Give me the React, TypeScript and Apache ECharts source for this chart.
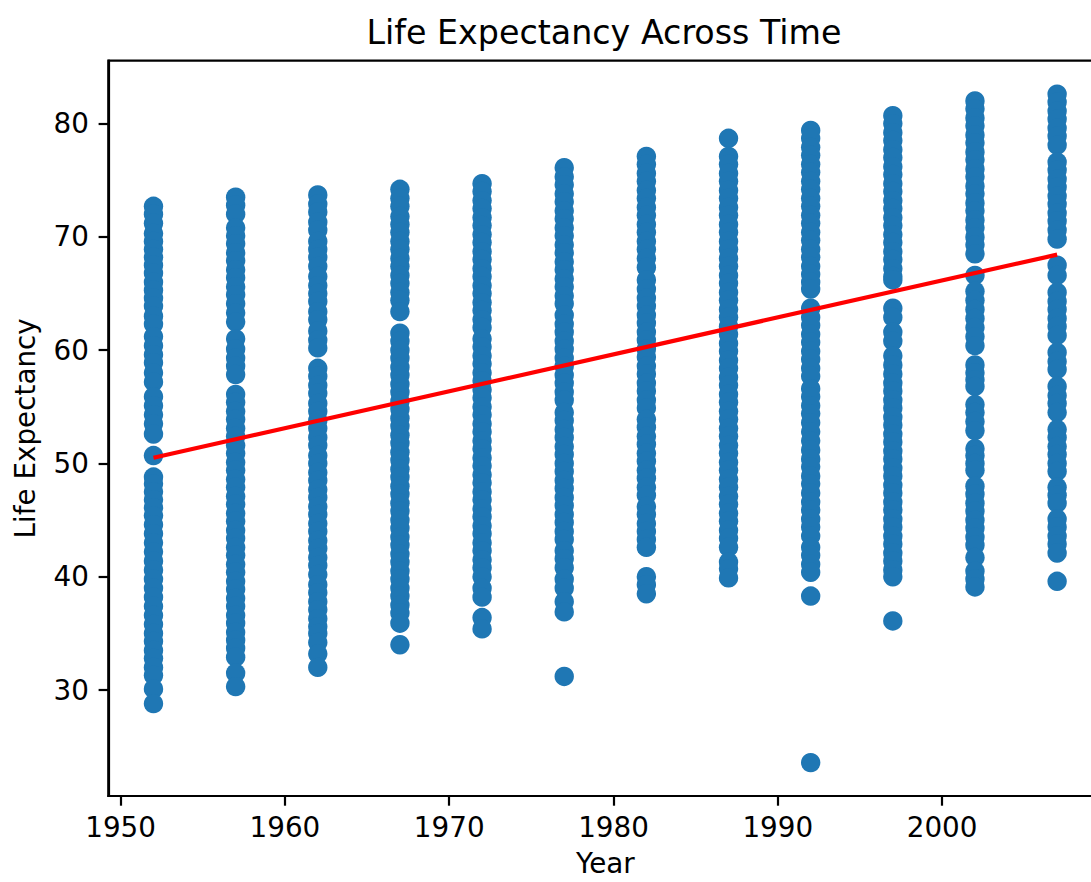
import React, { useEffect, useRef } from "react";
import * as echarts from "echarts";

const years = [1952, 1957, 1962, 1967, 1972, 1977, 1982, 1987, 1992, 1997, 2002, 2007];

const life1952 = [72.7, 72.0, 71.2, 70.3, 69.6, 68.9, 68.2, 67.5, 66.8, 66.0, 65.3, 64.6, 63.9, 63.0, 62.3, 61.2, 60.4, 59.6, 58.9, 58.0, 57.2, 55.9, 55.1, 54.3, 53.5, 52.6, 50.7, 48.8, 48.2, 47.5, 46.8, 46.1, 45.4, 44.6, 43.8, 43.0, 42.2, 41.4, 40.6, 39.8, 39.0, 38.2, 37.4, 36.6, 35.8, 35.0, 34.3, 33.5, 32.8, 32.0, 31.3, 30.1, 28.8];
const life1957 = [73.5, 72.8, 72.0, 70.8, 70.1, 69.4, 68.6, 67.9, 67.1, 66.4, 65.6, 64.9, 64.1, 63.3, 62.5, 61.0, 60.1, 59.3, 58.6, 57.85, 56.1, 55.4, 54.6, 53.9, 53.1, 52.4, 51.6, 50.9, 50.1, 49.4, 48.6, 47.9, 47.1, 46.4, 45.6, 44.9, 44.1, 43.4, 42.6, 41.9, 41.1, 40.4, 39.6, 38.9, 38.1, 37.4, 36.6, 35.9, 35.1, 34.4, 33.7, 32.9, 31.5, 30.3];
const life1962 = [73.7, 72.9, 72.2, 71.3, 70.6, 69.6, 68.9, 68.2, 67.4, 66.5, 65.7, 65.0, 64.3, 63.4, 62.7, 61.7, 60.9, 60.2, 58.4, 57.7, 56.9, 56.2, 55.3, 54.6, 53.8, 53.1, 52.3, 51.6, 50.7, 50.0, 49.2, 48.5, 47.7, 47.0, 46.2, 45.5, 44.7, 44.0, 43.2, 42.5, 41.7, 41.0, 40.2, 39.3, 38.6, 37.8, 37.1, 36.3, 35.6, 35.0, 34.2, 33.2, 32.0];
const life1967 = [74.2, 73.4, 72.7, 71.8, 71.1, 70.4, 69.6, 68.9, 68.1, 67.4, 66.6, 65.9, 65.1, 64.4, 63.4, 61.5, 60.8, 60.0, 59.3, 58.5, 57.8, 57.0, 56.3, 55.5, 54.8, 54.0, 53.3, 52.5, 51.8, 51.0, 50.3, 49.5, 48.8, 48.0, 47.3, 46.5, 45.8, 45.0, 44.3, 43.5, 42.8, 42.0, 41.3, 40.5, 39.8, 39.0, 38.3, 37.5, 36.8, 35.9, 34.0];
const life1972 = [74.7, 74.0, 73.2, 72.5, 71.7, 71.0, 70.2, 69.5, 68.7, 68.0, 67.2, 66.5, 65.7, 65.0, 64.2, 63.5, 62.7, 62.0, 61.0, 60.3, 59.5, 58.8, 58.0, 57.3, 56.5, 55.8, 55.0, 54.3, 53.5, 52.8, 52.0, 51.3, 50.5, 49.8, 49.0, 48.3, 47.5, 46.8, 46.0, 45.3, 44.5, 43.8, 43.0, 42.3, 41.5, 40.8, 40.0, 39.0, 38.2, 36.4, 35.4];
const life1977 = [76.1, 75.3, 74.6, 73.8, 73.1, 72.3, 71.6, 70.8, 70.1, 69.3, 68.6, 67.8, 67.1, 66.3, 65.6, 64.8, 64.1, 63.1, 62.3, 61.6, 60.8, 60.1, 59.3, 58.6, 57.8, 57.1, 56.3, 55.6, 54.5, 53.8, 53.0, 52.3, 51.5, 50.8, 50.0, 49.3, 48.5, 47.8, 47.0, 46.3, 45.5, 44.8, 44.0, 43.3, 42.3, 41.6, 40.8, 39.8, 39.0, 37.8, 36.9, 31.2];
const life1982 = [77.1, 76.4, 75.6, 74.9, 74.1, 73.4, 72.6, 71.9, 71.1, 70.4, 69.6, 68.9, 68.1, 67.3, 66.2, 65.4, 64.6, 63.9, 63.1, 62.4, 61.6, 60.9, 60.1, 59.4, 58.6, 57.9, 57.1, 56.4, 55.6, 54.9, 53.9, 53.2, 52.4, 51.7, 50.9, 50.2, 49.4, 48.7, 47.9, 47.2, 46.2, 45.5, 44.7, 44.0, 43.3, 42.6, 40.0, 39.3, 38.5];
const life1987 = [78.7, 77.1, 76.4, 75.6, 74.9, 74.1, 73.4, 72.6, 71.9, 71.1, 70.4, 69.6, 68.9, 68.1, 67.4, 66.6, 65.9, 65.1, 64.4, 63.6, 62.9, 62.1, 61.4, 60.6, 59.9, 59.1, 58.4, 57.6, 56.9, 56.1, 55.4, 54.6, 53.9, 53.1, 52.4, 51.6, 50.9, 50.1, 49.4, 48.6, 47.9, 47.1, 46.4, 45.6, 44.9, 44.1, 43.4, 42.6, 41.3, 40.7, 39.9];
const life1992 = [79.4, 78.7, 77.9, 77.2, 76.4, 75.7, 74.9, 74.2, 73.4, 72.7, 71.9, 71.2, 70.4, 69.7, 68.9, 68.2, 67.4, 66.7, 66.0, 65.4, 63.7, 62.9, 62.2, 61.4, 60.7, 59.9, 59.2, 58.4, 57.7, 56.6, 55.9, 55.1, 54.4, 53.6, 52.8, 52.0, 51.2, 50.4, 49.7, 48.9, 48.2, 47.4, 46.6, 45.9, 45.1, 44.4, 43.6, 42.6, 41.9, 41.1, 40.4, 38.3, 23.6];
const life1997 = [80.7, 80.0, 79.2, 78.5, 77.7, 77.0, 76.2, 75.5, 74.7, 74.0, 73.2, 72.5, 71.7, 71.0, 70.2, 69.5, 68.7, 68.0, 67.2, 66.5, 66.2, 63.7, 62.9, 61.6, 60.8, 59.5, 58.7, 57.9, 57.1, 56.4, 55.6, 54.9, 54.1, 53.4, 52.6, 51.9, 51.1, 50.4, 49.6, 48.9, 48.1, 47.4, 46.6, 45.9, 45.1, 44.4, 43.6, 42.9, 42.1, 41.4, 40.6, 40.0, 36.1];
const life2002 = [82.0, 81.3, 80.5, 79.8, 79.0, 78.3, 77.5, 76.8, 76.0, 75.3, 74.5, 73.8, 73.0, 72.3, 71.5, 70.8, 70.0, 69.3, 68.5, 66.6, 65.2, 64.4, 63.6, 62.8, 62.0, 61.2, 60.4, 58.7, 58.0, 57.4, 56.8, 55.2, 54.5, 53.7, 52.9, 51.3, 50.7, 50.0, 49.4, 48.0, 47.3, 46.5, 45.8, 45.0, 44.3, 43.5, 42.8, 41.7, 40.5, 39.8, 39.1];
const life2007 = [82.6, 81.9, 81.1, 80.4, 79.6, 78.9, 78.1, 76.6, 75.9, 75.1, 74.4, 73.6, 72.9, 72.1, 71.4, 70.6, 69.8, 67.5, 66.6, 65.1, 64.3, 63.6, 62.8, 62.1, 61.3, 59.8, 59.0, 58.3, 56.8, 56.0, 55.3, 54.5, 53.0, 52.3, 51.5, 50.8, 50.0, 49.3, 47.9, 47.2, 46.5, 45.1, 44.4, 43.6, 42.9, 42.1, 39.6];

const lifeByYear = [life1952, life1957, life1962, life1967, life1972, life1977, life1982, life1987, life1992, life1997, life2002, life2007];

const xTicks = [1950, 1960, 1970, 1980, 1990, 2000];
const yTicks = [30, 40, 50, 60, 70, 80];

const fitYears = [1952, 2007];
const fitLife = [50.51, 68.43];

const FONT = "DejaVu Sans";

export default function App() {
  const ref = useRef<HTMLDivElement>(null);
  useEffect(() => {
    const chart = echarts.init(ref.current as HTMLDivElement, null, { renderer: "svg" });
    const points: number[][] = [];
    years.forEach((yr, i) => {
      lifeByYear[i].forEach((v) => points.push([yr, v]));
    });
    const fit = fitYears.map((yr, i) => [yr, fitLife[i]]);
    chart.setOption({
      animation: false,
      backgroundColor: "#fff",
      grid: {
        left: 108.3,
        top: 60.7,
        width: 994,
        height: 741.6,
        show: true,
        borderColor: "#000",
        borderWidth: 2.2,
        containLabel: false,
      },
      graphic: [
        {
          type: "text",
          x: 604,
          y: 32.5,
          style: {
            text: "Life Expectancy Across Time",
            fontFamily: FONT,
            fontSize: 33.3,
            fill: "#000",
            textAlign: "center",
            textVerticalAlign: "middle",
          },
        },
      ],
      xAxis: {
        type: "value",
        min: 1949.25,
        max: 2009.75,
        splitLine: { show: false },
        axisLine: { show: true, onZero: false, lineStyle: { color: "#000", width: 2.2 } },
        axisTick: { show: true, customValues: xTicks, length: 9.7, lineStyle: { color: "#000", width: 2.2 } },
        axisLabel: {
          customValues: xTicks,
          margin: 17,
          fontSize: 27.8,
          color: "#000",
          fontFamily: FONT,
          formatter: (v: number) => String(v),
        },
        name: "Year",
        nameLocation: "middle",
        nameGap: 53,
        nameTextStyle: { fontSize: 27.8, color: "#000", fontFamily: FONT },
      },
      yAxis: {
        type: "value",
        min: 20.65,
        max: 85.55,
        splitLine: { show: false },
        axisLine: { show: true, onZero: false, lineStyle: { color: "#000", width: 2.2 } },
        axisTick: { show: true, customValues: yTicks, length: 9.7, lineStyle: { color: "#000", width: 2.2 } },
        axisLabel: {
          customValues: yTicks,
          margin: 19.4,
          fontSize: 27.8,
          color: "#000",
          fontFamily: FONT,
          formatter: (v: number) => String(v),
        },
        name: "Life Expectancy",
        nameLocation: "middle",
        nameRotate: 90,
        nameGap: 68.5,
        nameTextStyle: { fontSize: 27.8, color: "#000", fontFamily: FONT },
      },
      series: [
        {
          type: "scatter",
          data: points,
          symbol: "circle",
          symbolSize: 19.4,
          itemStyle: { color: "#1f77b4", opacity: 1 },
          emphasis: { disabled: true },
          z: 2,
        },
        {
          type: "line",
          data: fit,
          showSymbol: false,
          symbol: "none",
          lineStyle: { color: "#ff0000", width: 4.2 },
          emphasis: { disabled: true },
          z: 3,
        },
      ],
    });
    return () => chart.dispose();
  }, []);
  return (
    <div
      style={{
        position: "fixed",
        left: 0,
        top: 0,
        width: 1091,
        height: 882,
        overflow: "hidden",
        background: "#fff",
      }}
    >
      <div ref={ref} style={{ width: 1120, height: 882 }} />
    </div>
  );
}
